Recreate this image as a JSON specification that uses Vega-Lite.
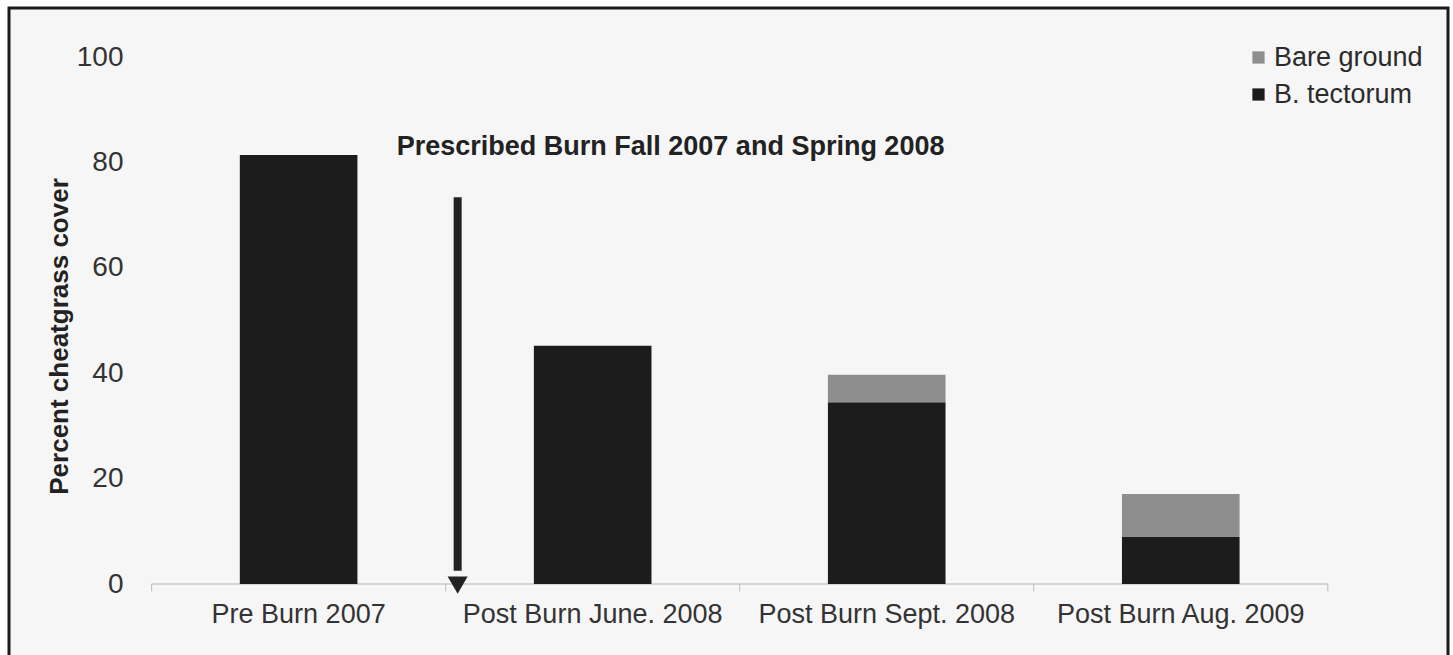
{
  "$schema": "https://vega.github.io/schema/vega-lite/v6.json",
  "width": 1439,
  "height": 652,
  "autosize": {"type": "none"},
  "padding": {"left": 9, "top": 8, "right": 5, "bottom": -5},
  "background": "white",
  "config": {
    "font": "Liberation Sans",
    "view": {"fill": "#f6f6f6", "stroke": "#1a1a1a", "strokeWidth": 3}
  },
  "datasets": {
    "cover": [
      {"period": "Pre Burn 2007", "layer": "B. tectorum", "cover": 81.4},
      {"period": "Post Burn June. 2008", "layer": "B. tectorum", "cover": 45.2},
      {"period": "Post Burn Sept. 2008", "layer": "B. tectorum", "cover": 34.5},
      {"period": "Post Burn Sept. 2008", "layer": "Bare ground", "cover": 5.2},
      {"period": "Post Burn Aug. 2009", "layer": "B. tectorum", "cover": 8.9},
      {"period": "Post Burn Aug. 2009", "layer": "Bare ground", "cover": 8.2}
    ],
    "periods": [
      {"period": "Pre Burn 2007"},
      {"period": "Post Burn June. 2008"},
      {"period": "Post Burn Sept. 2008"},
      {"period": "Post Burn Aug. 2009"}
    ],
    "span": [
      {"period": "Pre Burn 2007", "period_end": "Post Burn Aug. 2009"}
    ],
    "last": [{"period": "Post Burn Aug. 2009"}],
    "first": [{"period": "Pre Burn 2007", "note": "Prescribed Burn Fall 2007 and Spring 2008"}]
  },
  "layer": [
    {
      "data": {"name": "span"},
      "mark": {"type": "rule", "color": "#c8c8c8", "strokeWidth": 1.5},
      "encoding": {
        "x": {"field": "period", "type": "nominal", "bandPosition": -0.75,
              "scale": {"domain": ["Pre Burn 2007", "Post Burn June. 2008", "Post Burn Sept. 2008", "Post Burn Aug. 2009"], "paddingInner": 0.6, "paddingOuter": 0.7469, "align": 0.5255},
              "axis": {"orient": "bottom", "offset": -76, "domain": false, "ticks": false, "tickSize": 0, "grid": false, "labelPadding": 17, "labelFontSize": 27, "labelColor": "#333333", "labelAngle": 0, "labelLimit": 400, "labelOverlap": false, "title": null}},
        "x2": {"field": "period_end", "bandPosition": 1.75},
        "y": {"datum": 0, "type": "quantitative",
              "scale": {"domain": [-14.42, 109.3], "nice": false, "zero": false},
              "axis": {"values": [0, 20, 40, 60, 80, 100], "domain": false, "ticks": false, "tickSize": 0, "grid": false, "labelPadding": 0, "offset": -114, "labelFontSize": 28, "labelColor": "#333333", "title": "Percent cheatgrass cover", "titleFontSize": 26, "titleFontWeight": "bold", "titleColor": "#222222", "titleX": -56, "titleY": 328, "titleAngle": -90, "titleBaseline": "alphabetic", "titleAlign": "center"}}
      }
    },
    {
      "data": {"name": "periods"},
      "mark": {"type": "rule", "color": "#bdbdbd", "strokeWidth": 1},
      "encoding": {
        "x": {"field": "period", "type": "nominal", "bandPosition": -0.75,
              "axis": {"orient": "bottom", "offset": -76, "domain": false, "ticks": false, "tickSize": 0, "grid": false, "labelPadding": 17, "labelFontSize": 27, "labelColor": "#333333", "labelAngle": 0, "labelLimit": 400, "labelOverlap": false, "title": null}},
        "y": {"datum": 0, "type": "quantitative",
              "axis": {"values": [0, 20, 40, 60, 80, 100], "domain": false, "ticks": false, "tickSize": 0, "grid": false, "labelPadding": 0, "offset": -114, "labelFontSize": 28, "labelColor": "#333333", "title": "Percent cheatgrass cover", "titleFontSize": 26, "titleFontWeight": "bold", "titleColor": "#222222", "titleX": -56, "titleY": 328, "titleAngle": -90, "titleBaseline": "alphabetic", "titleAlign": "center"}},
        "y2": {"datum": -1.4}
      }
    },
    {
      "data": {"name": "last"},
      "mark": {"type": "rule", "color": "#bdbdbd", "strokeWidth": 1},
      "encoding": {
        "x": {"field": "period", "type": "nominal", "bandPosition": 1.75,
              "axis": {"orient": "bottom", "offset": -76, "domain": false, "ticks": false, "tickSize": 0, "grid": false, "labelPadding": 17, "labelFontSize": 27, "labelColor": "#333333", "labelAngle": 0, "labelLimit": 400, "labelOverlap": false, "title": null}},
        "y": {"datum": 0, "type": "quantitative",
              "axis": {"values": [0, 20, 40, 60, 80, 100], "domain": false, "ticks": false, "tickSize": 0, "grid": false, "labelPadding": 0, "offset": -114, "labelFontSize": 28, "labelColor": "#333333", "title": "Percent cheatgrass cover", "titleFontSize": 26, "titleFontWeight": "bold", "titleColor": "#222222", "titleX": -56, "titleY": 328, "titleAngle": -90, "titleBaseline": "alphabetic", "titleAlign": "center"}},
        "y2": {"datum": -1.4}
      }
    },
    {
      "data": {"name": "cover"},
      "mark": {"type": "bar"},
      "encoding": {
        "x": {"field": "period", "type": "nominal",
              "axis": {"orient": "bottom", "offset": -76, "domain": false, "ticks": false, "tickSize": 0, "grid": false, "labelPadding": 17, "labelFontSize": 27, "labelColor": "#333333", "labelAngle": 0, "labelLimit": 400, "labelOverlap": false, "title": null}},
        "y": {"field": "cover", "type": "quantitative", "stack": "zero",
              "axis": {"values": [0, 20, 40, 60, 80, 100], "domain": false, "ticks": false, "tickSize": 0, "grid": false, "labelPadding": 0, "offset": -114, "labelFontSize": 28, "labelColor": "#333333", "title": "Percent cheatgrass cover", "titleFontSize": 26, "titleFontWeight": "bold", "titleColor": "#222222", "titleX": -56, "titleY": 328, "titleAngle": -90, "titleBaseline": "alphabetic", "titleAlign": "center"}},
        "color": {"field": "layer", "type": "nominal",
                  "scale": {"domain": ["Bare ground", "B. tectorum"], "range": ["#8e8e8e", "#1c1c1c"]},
                  "legend": {"orient": "none", "legendX": 1236, "legendY": 36, "title": null, "symbolType": "square", "symbolSize": 150, "symbolStrokeWidth": 0, "labelFontSize": 27, "labelColor": "#2b2b2b", "rowPadding": 9, "labelOffset": 2, "padding": 0}},
        "order": {"field": "layer", "sort": "ascending"}
      }
    },
    {
      "data": {"name": "first"},
      "mark": {"type": "rule", "color": "#222222", "strokeWidth": 8},
      "encoding": {
        "x": {"field": "period", "type": "nominal", "bandPosition": 1.852,
              "axis": {"orient": "bottom", "offset": -76, "domain": false, "ticks": false, "tickSize": 0, "grid": false, "labelPadding": 17, "labelFontSize": 27, "labelColor": "#333333", "labelAngle": 0, "labelLimit": 400, "labelOverlap": false, "title": null}},
        "y": {"datum": 73.4, "type": "quantitative",
              "axis": {"values": [0, 20, 40, 60, 80, 100], "domain": false, "ticks": false, "tickSize": 0, "grid": false, "labelPadding": 0, "offset": -114, "labelFontSize": 28, "labelColor": "#333333", "title": "Percent cheatgrass cover", "titleFontSize": 26, "titleFontWeight": "bold", "titleColor": "#222222", "titleX": -56, "titleY": 328, "titleAngle": -90, "titleBaseline": "alphabetic", "titleAlign": "center"}},
        "y2": {"datum": 2.5}
      }
    },
    {
      "data": {"name": "first"},
      "mark": {"type": "point", "shape": "triangle-down", "filled": true, "size": 400, "color": "#222222", "opacity": 1},
      "encoding": {
        "x": {"field": "period", "type": "nominal", "bandPosition": 1.852,
              "axis": {"orient": "bottom", "offset": -76, "domain": false, "ticks": false, "tickSize": 0, "grid": false, "labelPadding": 17, "labelFontSize": 27, "labelColor": "#333333", "labelAngle": 0, "labelLimit": 400, "labelOverlap": false, "title": null}},
        "y": {"datum": -0.2, "type": "quantitative",
              "axis": {"values": [0, 20, 40, 60, 80, 100], "domain": false, "ticks": false, "tickSize": 0, "grid": false, "labelPadding": 0, "offset": -114, "labelFontSize": 28, "labelColor": "#333333", "title": "Percent cheatgrass cover", "titleFontSize": 26, "titleFontWeight": "bold", "titleColor": "#222222", "titleX": -56, "titleY": 328, "titleAngle": -90, "titleBaseline": "alphabetic", "titleAlign": "center"}}
      }
    },
    {
      "data": {"name": "first"},
      "mark": {"type": "text", "align": "left", "baseline": "alphabetic", "fontSize": 27, "fontWeight": "bold", "color": "#222222"},
      "encoding": {
        "x": {"field": "period", "type": "nominal", "bandPosition": 1.334,
              "axis": {"orient": "bottom", "offset": -76, "domain": false, "ticks": false, "tickSize": 0, "grid": false, "labelPadding": 17, "labelFontSize": 27, "labelColor": "#333333", "labelAngle": 0, "labelLimit": 400, "labelOverlap": false, "title": null}},
        "y": {"datum": 81.4, "type": "quantitative",
              "axis": {"values": [0, 20, 40, 60, 80, 100], "domain": false, "ticks": false, "tickSize": 0, "grid": false, "labelPadding": 0, "offset": -114, "labelFontSize": 28, "labelColor": "#333333", "title": "Percent cheatgrass cover", "titleFontSize": 26, "titleFontWeight": "bold", "titleColor": "#222222", "titleX": -56, "titleY": 328, "titleAngle": -90, "titleBaseline": "alphabetic", "titleAlign": "center"}},
        "text": {"field": "note"}
      }
    }
  ]
}
